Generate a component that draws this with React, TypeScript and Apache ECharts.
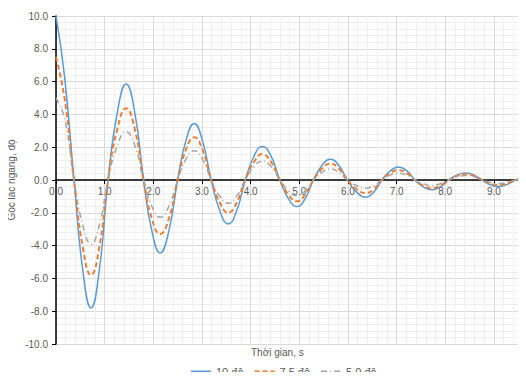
import React, { useEffect, useRef } from "react";
import * as echarts from "echarts";

const times = [
  0, 0.18, 0.37, 0.55, 0.72, 0.89, 1.07, 1.26, 1.44, 1.62,
  1.8, 1.97, 2.14, 2.32, 2.5, 2.67, 2.84, 3.01, 3.19, 3.37,
  3.54, 3.71, 3.89, 4.07, 4.24, 4.42, 4.6, 4.78, 4.95, 5.12,
  5.29, 5.47, 5.64, 5.81, 5.99, 6.18, 6.36, 6.53, 6.7, 6.87,
  7.04, 7.21, 7.38, 7.55, 7.72, 7.9, 8.07, 8.24, 8.42, 8.59,
  8.76, 8.92, 9.08, 9.26, 9.45, 9.66,
];

const deg10 = [
  10, 6.2, 0, -5.5, -7.8, -5.5, 0, 4.1, 5.85, 4.1,
  0, -3.1, -4.45, -3.1, 0, 2.4, 3.45, 2.4, 0, -1.9,
  -2.68, -1.9, 0, 1.45, 2.05, 1.45, 0, -1.15, -1.62, -1.15,
  0, 0.9, 1.27, 0.9, 0, -0.74, -1.05, -0.74, 0, 0.56,
  0.8, 0.56, 0, -0.42, -0.6, -0.42, 0, 0.3, 0.42, 0.3,
  0, -0.28, -0.4, -0.28, 0, 0.2,
];

const deg75 = [
  7.5, 4.9, 0, -4.1, -5.8, -4.1, 0, 3.1, 4.37, 3.1,
  0, -2.35, -3.3, -2.35, 0, 1.85, 2.6, 1.85, 0, -1.4,
  -2.0, -1.4, 0, 1.1, 1.58, 1.1, 0, -0.9, -1.3, -0.9,
  0, 0.7, 1.0, 0.7, 0, -0.56, -0.8, -0.56, 0, 0.42,
  0.6, 0.42, 0, -0.35, -0.5, -0.35, 0, 0.25, 0.35, 0.25,
  0, -0.21, -0.3, -0.21, 0, 0.12,
];

const deg50 = [
  5.0, 3.7, 0, -2.75, -3.9, -2.75, 0, 2.1, 2.95, 2.1,
  0, -1.6, -2.27, -1.6, 0, 1.27, 1.79, 1.27, 0, -1.0,
  -1.42, -1.0, 0, 0.82, 1.15, 0.82, 0, -0.67, -0.95, -0.67,
  0, 0.48, 0.68, 0.48, 0, -0.35, -0.5, -0.35, 0, 0.3,
  0.42, 0.3, 0, -0.23, -0.33, -0.23, 0, 0.19, 0.27, 0.19,
  0, -0.15, -0.22, -0.15, 0, 0.08,
];

const seriesNames = ["10 độ", "7.5 độ", "5.0 độ"];
const xTitle = "Thời gian, s";
const yTitle = "Góc lắc ngang, độ";

const FONT = "'Liberation Sans', Arial, sans-serif";
const X_MIN = 0;
const X_MAX = 9.66;

export default function App() {
  const ref = useRef<HTMLDivElement>(null);
  useEffect(() => {
    if (!ref.current) return;
    const chart = echarts.init(ref.current, undefined, { renderer: "svg" });
    const pair = (ys: number[]) => times.map((t, i) => [t, ys[i]]);
    chart.setOption({
      animation: false,
      backgroundColor: "#ffffff",
      textStyle: { fontFamily: FONT },
      grid: [
        { left: 56, right: 0, top: 16, bottom: 36 },
        { left: 56, right: 0, top: 16, height: 164 },
      ],
      legend: {
        bottom: 3,
        left: 190,
        padding: 0,
        itemWidth: 20,
        itemHeight: 10,
        itemGap: 10,
        itemStyle: { opacity: 0 },
        textStyle: { fontSize: 11, color: "#595959", fontFamily: FONT },
        data: seriesNames,
      },
      xAxis: [
        {
          type: "value",
          gridIndex: 0,
          min: X_MIN,
          max: X_MAX,
          interval: 1,
          axisLine: { onZero: true, lineStyle: { color: "#000000", width: 1.5 } },
          axisTick: { show: false },
          axisLabel: { show: false },
          splitLine: { show: true, lineStyle: { color: "#d9d9d9", width: 1 } },
          minorTick: { show: false, splitNumber: 5 },
          minorSplitLine: { show: true, lineStyle: { color: "#efefef", width: 1 } },
        },
        {
          type: "value",
          gridIndex: 1,
          min: X_MIN,
          max: X_MAX,
          interval: 1,
          position: "bottom",
          axisLine: { show: false },
          axisTick: { show: true, length: 4, lineStyle: { color: "#000000", width: 1 } },
          axisLabel: {
            formatter: (v: number) => v.toFixed(1),
            color: "#595959",
            fontSize: 10,
            margin: 6,
            showMaxLabel: false,
          },
          splitLine: { show: false },
        },
      ],
      yAxis: [
        {
          type: "value",
          gridIndex: 0,
          min: -10,
          max: 10,
          interval: 2,
          axisLine: { show: true, onZero: false, lineStyle: { color: "#000000", width: 1.5 } },
          axisTick: { show: true, length: 4, lineStyle: { color: "#000000" } },
          axisLabel: {
            formatter: (v: number) => v.toFixed(1),
            color: "#595959",
            fontSize: 10,
            margin: 8,
          },
          splitLine: { show: true, lineStyle: { color: "#d9d9d9", width: 1 } },
          minorTick: { show: false, splitNumber: 5 },
          minorSplitLine: { show: true, lineStyle: { color: "#efefef", width: 1 } },
        },
        {
          type: "value",
          gridIndex: 1,
          min: 0,
          max: 1,
          show: false,
        },
      ],
      graphic: [
        {
          type: "text",
          left: 291 - 40,
          top: 347,
          style: {
            text: xTitle,
            fill: "#595959",
            font: `10px ${FONT}`,
            width: 80,
            align: "center",
          },
        },
        {
          type: "text",
          x: 11,
          y: 180,
          rotation: Math.PI / 2,
          style: {
            text: yTitle,
            fill: "#595959",
            font: `10px ${FONT}`,
            align: "center",
            verticalAlign: "middle",
          },
        },
      ],
      series: [
        {
          name: seriesNames[0],
          type: "line",
          xAxisIndex: 0,
          yAxisIndex: 0,
          data: pair(deg10),
          smooth: 0.5,
          symbol: "none",
          color: "#5B9BD5",
          lineStyle: { color: "#5B9BD5", width: 1.5 },
          z: 3,
        },
        {
          name: seriesNames[1],
          type: "line",
          xAxisIndex: 0,
          yAxisIndex: 0,
          data: pair(deg75),
          smooth: 0.5,
          symbol: "none",
          color: "#ED7D31",
          lineStyle: { color: "#ED7D31", width: 2, type: [5, 3] },
          z: 4,
        },
        {
          name: seriesNames[2],
          type: "line",
          xAxisIndex: 0,
          yAxisIndex: 0,
          data: pair(deg50),
          smooth: 0.5,
          symbol: "none",
          color: "#A5A5A5",
          lineStyle: { color: "#A5A5A5", width: 1.5, type: [6, 3, 1, 3] },
          z: 5,
        },
      ],
    });
    return () => chart.dispose();
  }, []);
  return <div ref={ref} style={{ width: 526, height: 380, margin: -8 }} />;
}
